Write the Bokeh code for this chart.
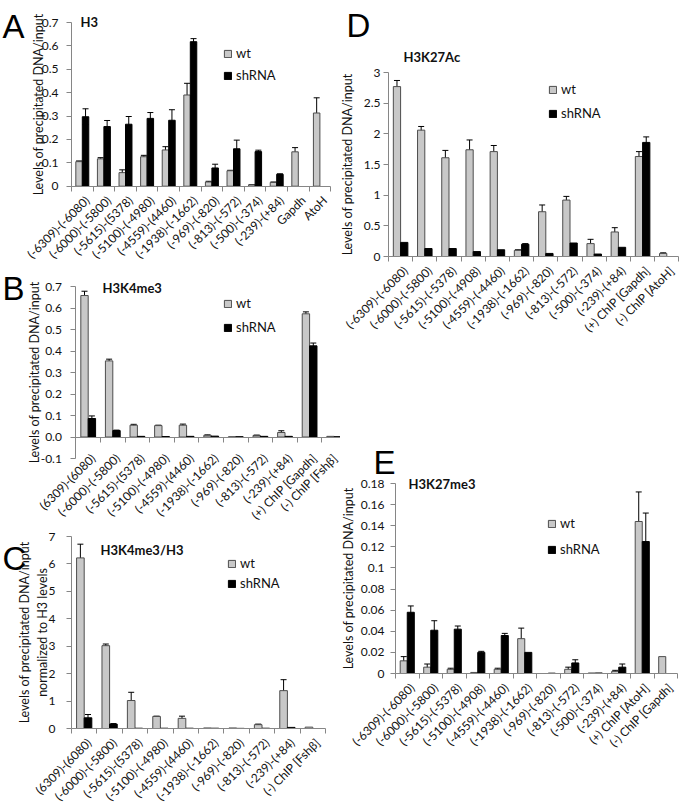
import numpy as np
from bokeh.plotting import figure
from bokeh.models import (ColumnDataSource, Whisker, TeeHead, Range1d, FixedTicker,
                          CustomJSTickFormatter, Legend, LegendItem, Label)
from bokeh.layouts import row, column
from bokeh.embed import file_html
from bokeh.resources import INLINE

# ---------------- data ----------------
a_cats = ["(-6309)-(-6080)", "(-6000)-(-5800)", "(-5615)-(5378)", "(-5100)-(-4980)",
          "(-4559)-(4460)", "(-1938)-(-1662)", "(-969)-(-820)", "(-813)-(-572)",
          "(-500)-(-374)", "(-239)-(+84)", "Gapdh", "AtoH"]
a_wt = [0.105, 0.117, 0.058, 0.126, 0.155, 0.39, 0.018, 0.066, 0.006, 0.016, 0.147, 0.313]
a_wt_err = [0.003, 0.005, 0.012, 0.006, 0.014, 0.05, 0.003, 0.002, 0.001, 0.002, 0.018, 0.065]
a_sh = [0.297, 0.255, 0.265, 0.29, 0.282, 0.618, 0.078, 0.16, 0.148, 0.051, None, None]
a_sh_err = [0.034, 0.026, 0.033, 0.025, 0.045, 0.013, 0.016, 0.037, 0.006, 0.002, None, None]

b_cats = ["(6309)-(6080)", "(-6000)-(-5800)", "(-5615)-(5378)", "(-5100)-(-4980)",
          "(-4559)-(4460)", "(-1938)-(-1662)", "(-969)-(-820)", "(-813)-(-572)",
          "(-239)-(+84)", "(+) ChIP [Gapdh]", "(-) ChIP [Fshβ]"]
b_wt = [0.658, 0.354, 0.055, 0.053, 0.055, 0.008, 0.001, 0.007, 0.021, 0.573, 0.003]
b_wt_err = [0.02, 0.008, 0.004, 0.002, 0.005, 0.002, None, 0.002, 0.008, 0.009, None]
b_sh = [0.086, 0.03, 0.003, 0.002, 0.003, 0.004, 0.001, 0.003, 0.003, 0.424, 0.001]
b_sh_err = [0.012, 0.002, None, None, None, None, None, None, None, 0.013, None]

c_cats = ["(6309)-(6080)", "(-6000)-(-5800)", "(-5615)-(5378)", "(-5100)-(-4980)",
          "(-4559)-(4460)", "(-1938)-(-1662)", "(-969)-(-820)", "(-813)-(-572)",
          "(-239)-(+84)", "(-) ChIP [Fshβ]"]
c_wt = [6.22, 3.02, 1.02, 0.44, 0.37, 0.02, 0.02, 0.14, 1.38, 0.05]
c_wt_err = [0.5, 0.06, 0.3, 0.01, 0.08, None, None, 0.02, 0.4, None]
c_sh = [0.39, 0.16, 0.01, 0.01, 0.01, 0.01, 0.005, 0.01, 0.04, None]
c_sh_err = [0.12, 0.02, None, None, None, None, None, None, None, None]

d_cats = ["(-6309)-(-6080)", "(-6000)-(-5800)", "(-5615)-(-5378)", "(-5100)-(-4908)",
          "(-4559)-(-4460)", "(-1938)-(-1662)", "(-969)-(-820)", "(-813)-(-572)",
          "(-500)-(-374)", "(-239)-(+84)", "(+) ChIP [Gapdh]", "(-) ChIP [AtoH]"]
d_wt = [2.77, 2.06, 1.61, 1.74, 1.71, 0.1, 0.73, 0.92, 0.21, 0.4, 1.63, 0.05]
d_wt_err = [0.1, 0.06, 0.12, 0.16, 0.1, 0.01, 0.11, 0.06, 0.07, 0.07, 0.08, 0.01]
d_sh = [0.23, 0.13, 0.13, 0.08, 0.11, 0.2, 0.05, 0.22, 0.04, 0.15, 1.86, None]
d_sh_err = [None, None, None, None, None, 0.01, None, None, None, None, 0.09, None]

e_cats = ["(-6309)-(-6080)", "(-6000)-(-5800)", "(-5615)-(-5378)", "(-5100)-(-4908)",
          "(-4559)-(-4460)", "(-1938)-(-1662)", "(-969)-(-820)", "(-813)-(-572)",
          "(-500)-(-374)", "(-239)-(+84)", "(+) ChIP [AtoH]", "(-) ChIP [Gapdh]"]
e_wt = [0.012, 0.006, 0.004, 0.001, 0.004, 0.033, 0.0, 0.004, 0.0005, 0.002, 0.144, 0.016]
e_wt_err = [0.004, 0.003, 0.001, None, 0.001, 0.01, None, 0.002, None, 0.001, 0.028, None]
e_sh = [0.058, 0.041, 0.042, 0.02, 0.036, 0.02, 0.0003, 0.01, 0.0005, 0.006, 0.125, None]
e_sh_err = [0.006, 0.009, 0.003, 0.001, 0.002, None, None, 0.003, None, 0.003, 0.027, None]

# ---------------- styling ----------------
FONT = "Lato"
LETTER_FONT = "Liberation Sans"
WT_FILL = "#c8c8c8"
WT_LINE = "#4d4d4d"
SH_FILL = "#000000"
AXIS_COL = "#868686"
TEXT_COL = "#111111"
YLABEL = "Levels of precipitated DNA/input"
GEN = "return (+tick.toFixed(4)).toString();"
ONE = "return tick.toFixed(1);"
LABEL_SHIFT_PX = 5


def arr(v):
    return np.array([np.nan if x is None else x for x in v], dtype=float)


def make_panel(cats, wt, wt_err, sh, sh_err, letter, title, *, size, x_left, cat_px,
               y_anchor0, y_anchor1, y_bounds, y_ticks, y_fmt, ylabel, tick_standoff,
               label_standoff, x_standoff, legend_xy, legend_spacing, title_xy, letter_xy):
    n = len(cats)
    W, H = size
    # frame covers the whole canvas; map pixel anchors to data ranges
    x0 = -x_left / cat_px
    x1 = (W - x_left) / cat_px
    (v0, py0), (v1, py1) = y_anchor0, y_anchor1
    s = (py0 - py1) / (v1 - v0)
    y0 = v0 - (H - py0) / s
    y1 = v1 + py1 / s

    p = figure(width=W, height=H, x_range=Range1d(x0, x1), y_range=Range1d(y0, y1),
               toolbar_location=None, output_backend="svg",
               min_border_left=0, min_border_top=0, min_border_right=0,
               min_border_bottom=0, outline_line_color=None,
               background_fill_color="white", border_fill_color="white")
    p.grid.visible = False

    centers = np.arange(n) + 0.5
    bw = 0.3
    wt_v, sh_v = arr(wt), arr(sh)
    src_wt = ColumnDataSource(dict(x=centers - bw / 2, top=wt_v))
    src_sh = ColumnDataSource(dict(x=centers + bw / 2, top=sh_v))
    r_wt = p.vbar(x="x", top="top", width=bw, bottom=0, source=src_wt,
                  fill_color=WT_FILL, line_color=WT_LINE, line_width=1)
    r_sh = p.vbar(x="x", top="top", width=bw, bottom=0, source=src_sh,
                  fill_color=SH_FILL, line_color=SH_FILL, line_width=1)

    for xs, vals, errs in ((centers - bw / 2, wt_v, arr(wt_err)),
                           (centers + bw / 2, sh_v, arr(sh_err))):
        m = ~np.isnan(errs)
        if m.any():
            src = ColumnDataSource(dict(base=xs[m], upper=vals[m] + errs[m],
                                        lower=vals[m] - errs[m]))
            p.add_layout(Whisker(source=src, base="base", upper="upper", lower="lower",
                                 line_color="#000000", line_width=1,
                                 upper_head=TeeHead(size=6, line_color="#000000", line_width=1),
                                 lower_head=TeeHead(size=6, line_color="#000000", line_width=1)))

    # x axis (categories), drawn at y = 0
    xa = p.xaxis[0]
    xa.fixed_location = 0
    xa.bounds = (0, n)
    label_ticks = list(centers + LABEL_SHIFT_PX / cat_px)
    xa.ticker = FixedTicker(ticks=label_ticks, minor_ticks=list(range(n + 1)))
    xa.formatter = CustomJSTickFormatter(args=dict(labels=cats),
                                         code="return labels[Math.floor(tick)] || '';")
    xa.major_tick_line_color = None
    xa.minor_tick_line_color = AXIS_COL
    xa.minor_tick_in = 0
    xa.minor_tick_out = 5
    xa.axis_line_color = AXIS_COL
    xa.major_label_orientation = np.pi / 4
    xa.major_label_text_font = FONT
    xa.major_label_text_font_size = "12px"
    xa.major_label_text_color = TEXT_COL
    xa.major_label_standoff = x_standoff

    # y axis, drawn at x = 0
    ya = p.yaxis[0]
    ya.fixed_location = 0
    ya.bounds = y_bounds
    ya.ticker = FixedTicker(ticks=y_ticks)
    ya.formatter = CustomJSTickFormatter(code=y_fmt)
    ya.axis_line_color = AXIS_COL
    ya.major_tick_line_color = AXIS_COL
    ya.major_tick_in = 0
    ya.major_tick_out = 5
    ya.minor_tick_line_color = None
    ya.major_label_text_font = FONT
    ya.major_label_text_font_size = "12px"
    ya.major_label_text_color = TEXT_COL
    ya.major_label_standoff = tick_standoff
    ya.axis_label = ylabel
    ya.axis_label_text_font = FONT
    ya.axis_label_text_font_size = "12.5px"
    ya.axis_label_text_font_style = "normal"
    ya.axis_label_text_color = TEXT_COL
    ya.axis_label_standoff = label_standoff

    leg = Legend(items=[LegendItem(label="wt", renderers=[r_wt]),
                        LegendItem(label="shRNA", renderers=[r_sh])],
                 location=legend_xy, glyph_width=9, glyph_height=9, label_height=16,
                 spacing=legend_spacing, padding=0, margin=0, label_standoff=4,
                 border_line_color=None, background_fill_alpha=0,
                 label_text_font=FONT, label_text_font_size="13px",
                 label_text_color=TEXT_COL)
    p.add_layout(leg)

    p.add_layout(Label(x=title_xy[0], y=title_xy[1], x_units="screen", y_units="screen",
                       text=title, text_font=FONT, text_font_size="13px",
                       text_font_style="bold", text_color=TEXT_COL,
                       text_align="left", text_baseline="middle"))
    p.add_layout(Label(x=letter_xy[0], y=letter_xy[1], x_units="screen", y_units="screen",
                       text=letter, text_font=LETTER_FONT, text_font_size="33px",
                       text_color="#000000", text_align="left",
                       text_baseline="alphabetic"))
    return p


pA = make_panel(a_cats, a_wt, a_wt_err, a_sh, a_sh_err, "A", "H3",
                size=(340, 263), x_left=71, cat_px=21.6,
                y_anchor0=(0, 185.7), y_anchor1=(0.7, 22), y_bounds=(0, 0.7),
                y_ticks=[0, 0.1, 0.2, 0.3, 0.4, 0.5, 0.6, 0.7], y_fmt=GEN,
                ylabel=YLABEL, tick_standoff=8, label_standoff=-7, x_standoff=6,
                legend_xy=(223, 180), legend_spacing=6, title_xy=(80, 242),
                letter_xy=(2, 237))

pB = make_panel(b_cats, b_wt, b_wt_err, b_sh, b_sh_err, "B", "H3K4me3",
                size=(340, 264), x_left=75.4, cat_px=24.6,
                y_anchor0=(0, 173.5), y_anchor1=(0.7, 23), y_bounds=(-0.1, 0.7),
                y_ticks=[-0.1, 0, 0.1, 0.2, 0.3, 0.4, 0.5, 0.6, 0.7], y_fmt=ONE,
                ylabel=YLABEL, tick_standoff=9, label_standoff=-5, x_standoff=13,
                legend_xy=(223, 192), legend_spacing=8, title_xy=(102, 240),
                letter_xy=(2, 239))

pC = make_panel(c_cats, c_wt, c_wt_err, c_sh, c_sh_err, "C", "H3K4me3/H3",
                size=(340, 280), x_left=71, cat_px=25.4,
                y_anchor0=(0, 201), y_anchor1=(7, 9), y_bounds=(0, 7),
                y_ticks=[0, 1, 2, 3, 4, 5, 6, 7], y_fmt=GEN,
                ylabel=YLABEL + "\nnormalized to H3 levels", tick_standoff=11,
                label_standoff=-4, x_standoff=6, legend_xy=(227, 216),
                legend_spacing=4, title_xy=(100, 258), letter_xy=(2, 249))

pD = make_panel(d_cats, d_wt, d_wt_err, d_sh, d_sh_err, "D", "H3K27Ac",
                size=(340, 420), x_left=48, cat_px=24.2,
                y_anchor0=(0, 256), y_anchor1=(3, 72), y_bounds=(0, 3),
                y_ticks=[0, 0.5, 1, 1.5, 2, 2.5, 3], y_fmt=GEN,
                ylabel=YLABEL, tick_standoff=3, label_standoff=6, x_standoff=6,
                legend_xy=(208, 299), legend_spacing=8, title_xy=(63, 364),
                letter_xy=(6, 395))

pE = make_panel(e_cats, e_wt, e_wt_err, e_sh, e_sh_err, "E", "H3K27me3",
                size=(340, 387), x_left=55, cat_px=23.5,
                y_anchor0=(0, 253), y_anchor1=(0.18, 63), y_bounds=(0, 0.18),
                y_ticks=[0, 0.02, 0.04, 0.06, 0.08, 0.1, 0.12, 0.14, 0.16, 0.18],
                y_fmt=GEN, ylabel=YLABEL, tick_standoff=6, label_standoff=2, x_standoff=6,
                legend_xy=(207, 250), legend_spacing=10, title_xy=(68, 324),
                letter_xy=(33, 345))

layout = row(column(pA, pB, pC), column(pD, pE))
open("out.html", "w").write(file_html(layout, INLINE))
